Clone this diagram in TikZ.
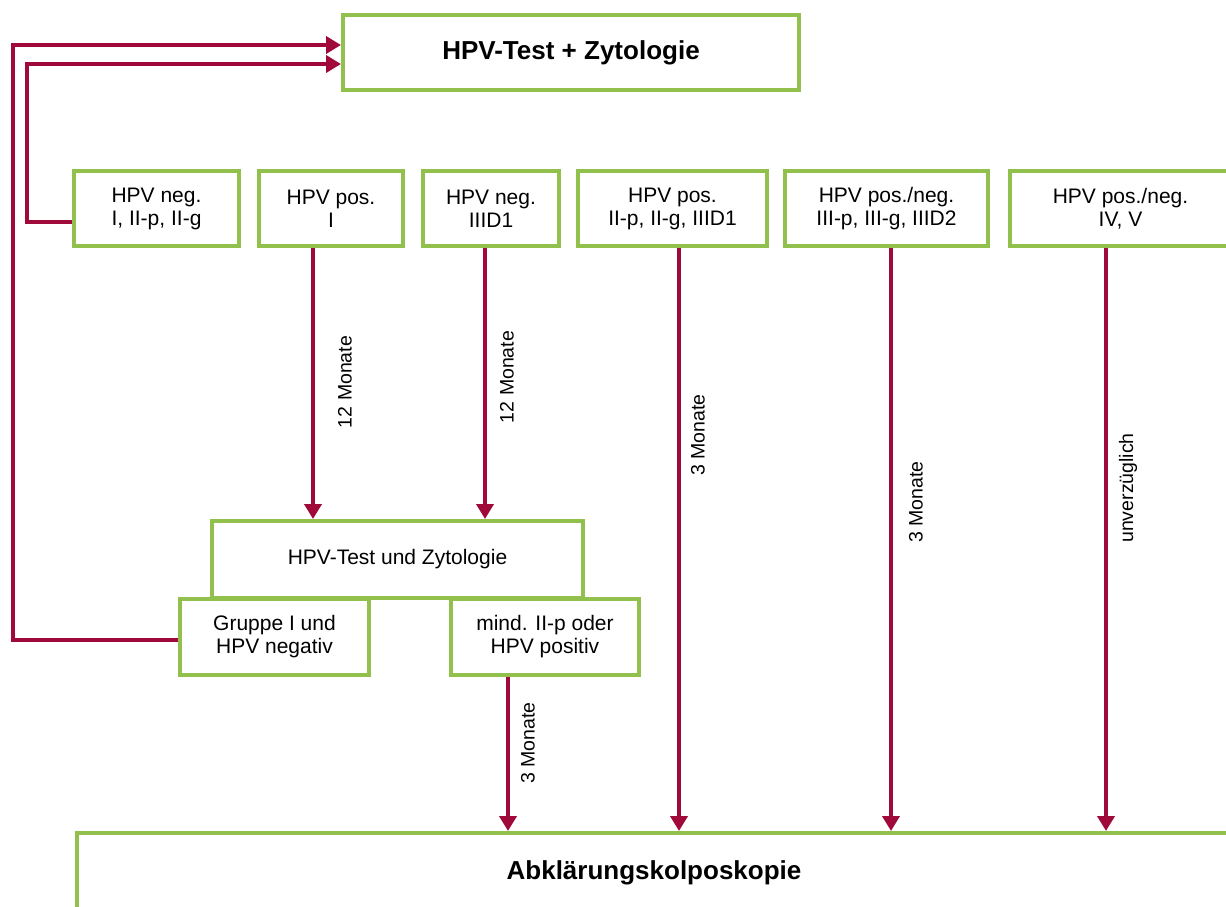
\documentclass[tikz,border=0pt]{standalone}
\usepackage{fontspec}
\setmainfont{Liberation Sans}
\usepackage{tikz}
\usetikzlibrary{arrows.meta}
\definecolor{kgruen}{RGB}{146,192,76}
\definecolor{krot}{RGB}{160,10,58}
\tikzset{
        kasten/.style={draw=kgruen, line width=4pt, fill=white, inner sep=0pt, align=center, font=\fontsize{21}{23}\selectfont},
        titel/.style={kasten, font=\fontsize{26}{28}\selectfont\bfseries},
        pfeil/.style={draw=krot, line width=4pt, -{Triangle[width=17pt,length=15pt]}},
        zeit/.style={rotate=90, inner sep=0pt, font=\fontsize{19.5}{21}\selectfont}
}

\begin{document}
\begin{tikzpicture}[x=1pt,y=-1pt]
        \path [use as bounding box, clip] (0,0) rectangle (1226,906);
        \node [titel, minimum width=456pt, minimum height=75pt] (start) at (571,52.5) {HPV-Test + Zytologie};
        \node [kasten, minimum width=165pt, minimum height=75pt] (b1) at (156.5,208.5) {HPV neg.\\I, II-p, II-g};
        \node [kasten, minimum width=144pt, minimum height=75pt] (b2) at (331,208.5) {HPV pos.\\I};
        \node [kasten, minimum width=136pt, minimum height=75pt] (b3) at (491,208.5) {HPV neg.\\IIID1};
        \node [kasten, minimum width=189pt, minimum height=75pt] (b4) at (672.5,208.5) {HPV pos.\\II-p, II-g, IIID1};
        \node [kasten, minimum width=203pt, minimum height=75pt] (b5) at (886.5,208.5) {HPV pos./neg.\\III-p, III-g, IIID2};
        \node [kasten, minimum width=221pt, minimum height=75pt] (b6) at (1120.5,208.5) {HPV pos./neg.\\IV, V};
        \node [kasten, minimum width=371pt, minimum height=77pt] (mitte) at (397.5,559.5) {HPV-Test und Zytologie};
        \node [kasten, minimum width=189pt, minimum height=76pt] (gruppe) at (274.5,637) {Gruppe I und\\HPV negativ};
        \node [kasten, minimum width=188pt, minimum height=76pt] (mind) at (545,637) {mind. II-p oder\\HPV positiv};
        \node [titel, minimum width=1154pt, minimum height=80pt] (ziel) at (654,873) {Abklärungskolposkopie};
        \draw [pfeil] ([yshift=-3pt]gruppe.west) -| (13,45) -- (start.west |- 0,45);
        \draw [pfeil] ([yshift=-13pt]b1.west) -| (27,64) -- (start.west |- 0,64);
        \foreach \von/\ax in {b2/313, b3/485}
            \draw [pfeil] (\von.south -| \ax,0) -- (mitte.north -| \ax,0);
        \foreach \von/\ax in {b4/679, b5/891, b6/1106, mind/508}
            \draw [pfeil] (\von.south -| \ax,0) -- (ziel.north -| \ax,0);
        \foreach \i/\lx/\ly/\lt in {1/345/382/12 Monate, 2/507/377/12 Monate, 3/698/435/3 Monate, 4/916/502/3 Monate, 5/1128/488/unverzüglich, 6/528/743/3 Monate}
            \node [zeit] (zeit\i) at (\lx,\ly) {\lt};
\end{tikzpicture}
\end{document}
